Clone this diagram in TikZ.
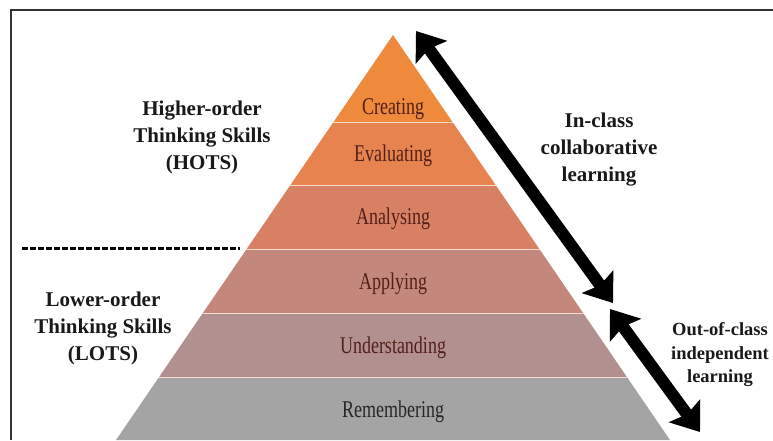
\documentclass[tikz,border=0pt]{standalone}
\usepackage{fontspec}
\setmainfont{Liberation Serif}
\newfontfamily\bandfont[FakeStretch=0.75]{Liberation Serif}
\usepackage{xcolor}
\usepackage{tikz}
\usetikzlibrary{arrows.meta}

\definecolor{creatcol}{HTML}{EF8A3C}
\definecolor{evalcol}{HTML}{E6834F}
\definecolor{analcol}{HTML}{D88063}
\definecolor{applcol}{HTML}{C3887B}
\definecolor{undcol}{HTML}{B39090}
\definecolor{remcol}{HTML}{A4A4A4}
\definecolor{bandtext}{HTML}{52201A}
\definecolor{septext}{HTML}{F6DCCF}

\begin{document}
\begin{tikzpicture}[x=1pt,y=-1pt,
        band/.style={anchor=base, text=bandtext, font=\bandfont\fontsize{24}{28}\selectfont},
        skills/.style={align=center, text=black!90, font=\bfseries\fontsize{21}{27}\selectfont},
        bigarrow/.style={line width=12pt, {Stealth[width=38pt,length=26pt,inset=4pt]}-{Stealth[width=38pt,length=26pt,inset=4pt]}}]
        \useasboundingbox (0,0) rectangle (773,440);

        % frame round the figure
        \draw[line width=1.8pt, black!80] (11,440) -- (11,10) -- (773,10);

        % the pyramid, cut into bands
        \begin{scope}
            \clip (393,35) -- (670,440) -- (116,440) -- cycle;
            \fill[creatcol] (100,30) rectangle (700,122);
            \fill[evalcol] (100,122) rectangle (700,185);
            \fill[analcol] (100,185) rectangle (700,249);
            \fill[applcol] (100,249) rectangle (700,313);
            \fill[undcol] (100,313) rectangle (700,377);
            \fill[remcol] (100,377) rectangle (700,445);
            \foreach \y in {122,185,249,313,377}
                \draw[septext, line width=1pt] (100,\y) -- (700,\y);
        \end{scope}

        % names of the bands
        \draw (393,114) node[band] (creating) {Creating};
        \draw (393,161) node[band] (evaluating) {Evaluating};
        \draw (393,224) node[band] (analysing) {Analysing};
        \draw (393,289) node[band] (applying) {Applying};
        \draw (393,353) node[band] (understanding) {Understanding};
        \draw (393,417) node[band, text=black!85] (remembering) {Remembering};

        % higher and lower order skills
        \draw (202,137) node[skills] (hots) {Higher-order\\Thinking Skills\\(HOTS)};
        \draw (103,328) node[skills] (lots) {Lower-order\\Thinking Skills\\(LOTS)};
        \draw[dashed, dash pattern=on 5.5pt off 2.5pt, line width=3pt] (22,248) -- (240,248);

        % kinds of learning
        \draw (599,150) node[skills] (inclass) {In-class\\collaborative\\learning};
        \draw (720,355) node[skills, font=\bfseries\fontsize{18.5}{23.5}\selectfont] (outclass) {Out-of-class\\independent\\learning};

        % arrows along the side
        \coordinate (inTop) at (416,31);
        \coordinate (inBot) at (613,303);
        \coordinate (outTop) at (610,309);
        \coordinate (outBot) at (700,432);
        \draw[bigarrow] (inTop) -- (inBot);
        \draw[bigarrow] (outTop) -- (outBot);

    \end{tikzpicture}
\end{document}
